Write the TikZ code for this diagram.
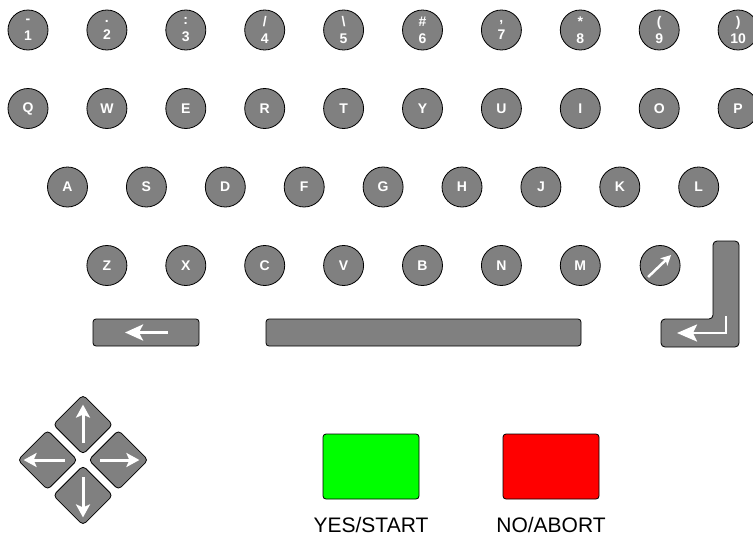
\documentclass[tikz,border=0pt]{standalone}
\usepackage{fontspec}
\setmainfont{Liberation Sans}
\usetikzlibrary{arrows.meta,positioning,calc}
\definecolor{keyg}{HTML}{808080}
\definecolor{yesc}{HTML}{00FF00}
\definecolor{noc}{HTML}{FF0000}
\tikzset{key/.style={circle,draw=black,fill=keyg,line width=.8pt,minimum size=40pt,inner sep=0pt,
    text=white,font=\bfseries\fontsize{14}{17}\selectfont},
  bar/.style={rectangle,draw=black,fill=keyg,line width=.8pt,rounded corners=3pt,minimum height=27pt,inner sep=0pt},
  pad/.style={rectangle,draw=black,fill=keyg,line width=.8pt,rounded corners=4pt,minimum size=42pt,inner sep=0pt,rotate=45},
  wht/.style={white,line width=3pt,-{Stealth[length=13pt,width=14pt,inset=3pt]}},
  btn/.style={rectangle,draw=black,line width=.8pt,rounded corners=3pt,minimum width=96pt,minimum height=65pt,inner sep=0pt},
  lbl/.style={font=\fontsize{21}{21}\selectfont,inner sep=0pt}}

\begin{document}
\begin{tikzpicture}[x=1pt,y=-1pt]
\useasboundingbox (0,0) rectangle (753,536);
\foreach \s [count=\i] in {-,{.},{:},{/},\textbackslash,\#,{,},*,{(},{)}}
  \node[key,align=center] (n\i) at ({28+78.9*(\i-1)},30) {\s\\\i};
\foreach \l [count=\i from 0] in {Q,W,E,R,T,Y,U,I,O,P}
  \node[key] (k\l) at ({28+78.9*\i},108.5) {\l};
\foreach \l [count=\i from 0] in {A,S,D,F,G,H,J,K,L}
  \node[key] (k\l) at ({67.5+78.9*\i},187) {\l};
\foreach \l [count=\i from 0] in {Z,X,C,V,B,N,M}
  \node[key] (k\l) at ({106.9+78.9*\i},265.5) {\l};
\node[key] (kshift) at (660.1,265.5) {};
\draw[wht,line width=2.5pt,-{Stealth[length=10pt,width=10pt,inset=2.5pt]}]
  ([shift={(-12,11.5)}]kshift.center) -- ([shift={(11,-10.5)}]kshift.center);
\node[bar,minimum width=106pt] (bksp) at (146,332.5) {};
\node[bar,minimum width=315pt] (space) at (423.5,332.5) {};
\draw[wht,-{Stealth[length=18pt,width=16pt,inset=4pt]}]
  ([shift={(22,0)}]bksp.center) -- ([shift={(-21,0)}]bksp.center);
\draw[fill=keyg,line width=.8pt,rounded corners=4pt] (687,347) -- (661,347) -- (661,319) -- (713,319)
  -- (713,241) -- (739,241) -- (739,347) -- cycle;
\coordinate (ret) at (726,316);
\coordinate (rettip) at (677,333);
\draw[wht,line width=2.5pt,-{Stealth[length=20pt,width=17pt,inset=4pt]}] (ret) |- (rettip);
\coordinate (dp) at (83,460);
\node[pad] (up) at ($(dp)+(0,-35.4)$) {};
\node[pad] (down) at ($(dp)+(0,35.4)$) {};
\node[pad] (left) at ($(dp)+(-35.4,0)$) {};
\node[pad] (right) at ($(dp)+(35.4,0)$) {};
\draw[wht] ([shift={(0,18)}]up.center) -- ([shift={(0,-20)}]up.center);
\draw[wht] ([shift={(0,-18)}]down.center) -- ([shift={(0,22)}]down.center);
\draw[wht] ([shift={(17,0)}]left.center) -- ([shift={(-24,0)}]left.center);
\draw[wht] ([shift={(-18,0)}]right.center) -- ([shift={(21,0)}]right.center);
\node[btn,fill=yesc] (yes) at (371,466.5) {};
\node[btn,fill=noc] (no) at (551,466.5) {};
\node[lbl,below=18pt of yes] (yeslbl) {YES/START};
\node[lbl,below=18pt of no] (nolbl) {NO/ABORT};
\end{tikzpicture}
\end{document}
